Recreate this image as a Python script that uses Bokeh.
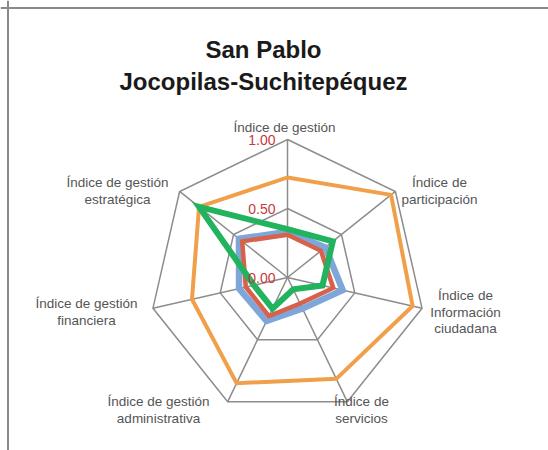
import math
from bokeh.plotting import figure
from bokeh.models import Range1d, Span
from bokeh.core.properties import value
from bokeh.embed import file_html
from bokeh.resources import INLINE

# ---------------- data ----------------
title_lines = ["San Pablo", "Jocopilas-Suchitepéquez"]
categories = [
    "Índice de gestión",
    "Índice de\nparticipación",
    "Índice de\nInformación\nciudadana",
    "Índice de\nservicios",
    "Índice de gestión\nadministrativa",
    "Índice de gestión\nfinanciera",
    "Índice de gestión\nestratégica",
]
serie_azul = [0.33, 0.35, 0.41, 0.25, 0.35, 0.36, 0.45]
serie_roja = [0.31, 0.31, 0.34, 0.21, 0.31, 0.31, 0.42]
serie_naranja = [0.725, 0.96, 0.93, 0.815, 0.85, 0.71, 0.82]
serie_verde = [0.35, 0.42, 0.26, 0.095, 0.25, 0.25, 0.82]
tick_values = [0.0, 0.5, 1.0]
tick_labels = ["0.00", "0.50", "1.00"]
grid_levels = [0.5, 1.0]

# ---------------- layout ----------------
W, H = 548, 450
R = 138.0              # pixels per unit of value
CX, CY = 287.0, 277.0  # centre of the radar in page pixels


def sx(px):
    return (px - CX) / R


def sy(py):
    return (CY - py) / R


n = len(categories)
angles = [math.pi / 2 - 2 * math.pi * k / n for k in range(n)]

p = figure(width=W, height=H, output_backend="svg", toolbar_location=None,
           x_range=Range1d(sx(0), sx(W)), y_range=Range1d(sy(H), sy(0)),
           x_axis_type=None, y_axis_type=None, min_border=0)
p.grid.visible = False
p.outline_line_color = None
p.background_fill_color = "white"
p.border_fill_color = "white"

# frame lines (top and left) like the reference
p.add_layout(Span(location=sx(7.5), dimension="height", line_color="#8a8a8a", line_width=2))
p.add_layout(Span(location=sy(7.5), dimension="width", line_color="#8a8a8a", line_width=2))

GRID = "#8c8c8c"
# rings
for lv in grid_levels:
    xs = [lv * math.cos(a) for a in angles]
    ys = [lv * math.sin(a) for a in angles]
    p.patch(xs, ys, fill_alpha=0, line_color=GRID, line_width=1.5, line_join="miter")
# spokes
p.segment(x0=[0] * n, y0=[0] * n,
          x1=[max(grid_levels) * math.cos(a) for a in angles],
          y1=[max(grid_levels) * math.sin(a) for a in angles],
          line_color=GRID, line_width=1.5)


def radar(vals, color, width):
    xs = [v * math.cos(a) for v, a in zip(vals, angles)]
    ys = [v * math.sin(a) for v, a in zip(vals, angles)]
    p.patch(xs, ys, fill_alpha=0, line_color=color, line_width=width, line_join="miter")


radar(serie_azul, "#7ea6d9", 6.5)
radar(serie_roja, "#d7614a", 4.5)
radar(serie_naranja, "#f0a04b", 4)
radar(serie_verde, "#21b35e", 6)

# tick labels
p.text(x=[sx(275)] * len(tick_values), y=[v for v in tick_values], text=tick_labels,
       text_align="right", text_baseline="middle", text_color="#c8383c",
       text_font=value("Liberation Sans"), text_font_size="14px")

# category labels (first-line centre in page pixels)
label_pos = [(284, 127), (439, 182), (465, 295), (361, 401),
             (158, 401), (86, 303), (117, 182)]
LINE = 16.5
lx, ly, lt = [], [], []
for cat, (px, py) in zip(categories, label_pos):
    for i, line in enumerate(cat.split("\n")):
        lx.append(sx(px))
        ly.append(sy(py + i * LINE))
        lt.append(line)
p.text(x=lx, y=ly, text=lt, text_align="center", text_baseline="middle",
       text_color="#555555", text_font=value("Liberation Sans"), text_font_size="13.5px")

# title
p.text(x=[sx(263), sx(263)], y=[sy(49), sy(81)], text=title_lines,
       text_align="center", text_baseline="middle", text_color="#1a1a1a",
       text_font=value("Liberation Sans"), text_font_size="24px", text_font_style="bold")

open("out.html", "w").write(file_html(p, INLINE))
